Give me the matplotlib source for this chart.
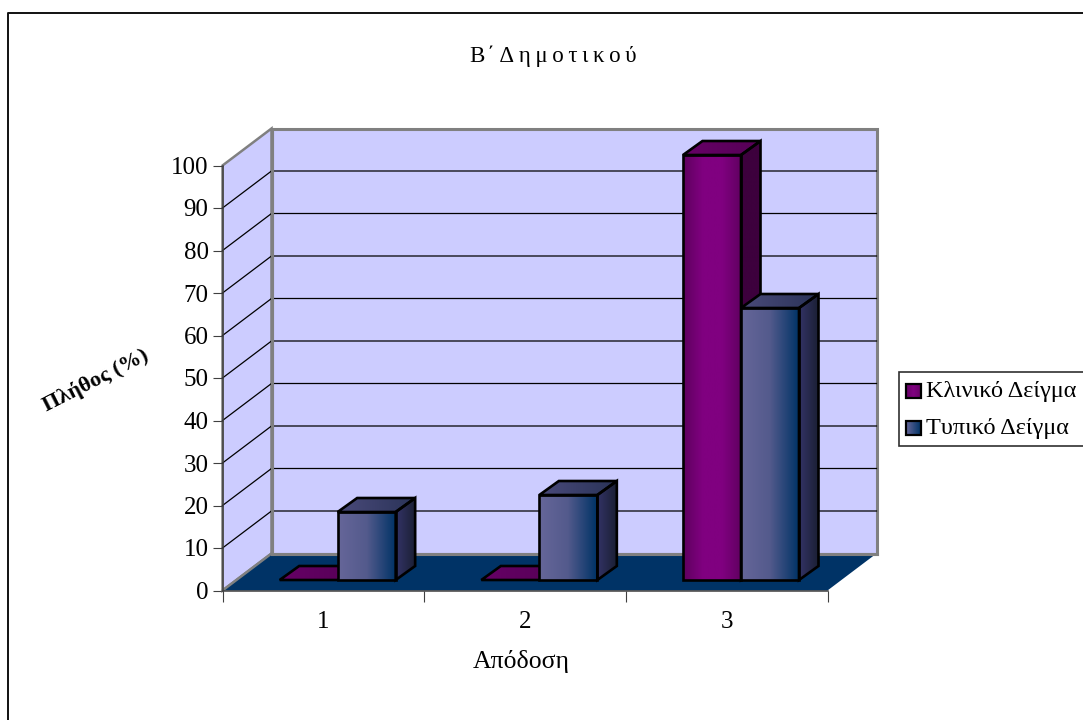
import numpy as np
import matplotlib
matplotlib.use('Agg')
import matplotlib.pyplot as plt
from matplotlib.colors import LinearSegmentedColormap
from matplotlib.patches import Polygon, Rectangle

categories = ['1', '2', '3']
clinical = [0, 0, 100]
typical = [16, 20, 64]
y_ticks = [0, 10, 20, 30, 40, 50, 60, 70, 80, 90, 100]
series_names = ['Κλινικό Δείγμα', 'Τυπικό Δείγμα']

W, H = 1083, 720
plt.rcParams['font.family'] = ['Liberation Serif', 'DejaVu Serif']

fig = plt.figure(figsize=(W / 100, H / 100), dpi=100, facecolor='white')

# front plane of the chart box in figure pixels
left, right, bottom, top = 222.5, 827.5, 590.5, 165.5
ax = fig.add_axes([left / W, 1 - bottom / H, (right - left) / W, (bottom - top) / H])
ax.set_xlim(0, 3)
ax.set_ylim(0, 100)
ax.patch.set_visible(False)

ux = (right - left) / 3    # pixels per category
uy = (bottom - top) / 100  # pixels per percent
depth_x = 49 / ux          # wall depth in data units
depth_y = 37 / uy


def poly(pts, **kw):
    p = Polygon(pts, closed=True, clip_on=False, **kw)
    ax.add_patch(p)
    return p


def shaded(pts, stops, zorder):
    # horizontal gradient clipped to a polygon
    xs = [p[0] for p in pts]
    ys = [p[1] for p in pts]
    cmap = LinearSegmentedColormap.from_list('g', stops)
    im = ax.imshow(np.linspace(0, 1, 128).reshape(1, -1), cmap=cmap, aspect='auto',
                   extent=(min(xs), max(xs), min(ys), max(ys)), zorder=zorder)
    im.set_clip_box(fig.bbox)
    im.set_clip_path(Polygon(pts, transform=ax.transData))
    ax.set_xlim(0, 3)
    ax.set_ylim(0, 100)
    poly(pts, fc='none', ec='black', lw=1.9, zorder=zorder + 0.1)


# walls and floor
wall = '#CCCCFF'
edge = '#808080'
poly([(depth_x, depth_y), (3 + depth_x, depth_y), (3 + depth_x, 100 + depth_y), (depth_x, 100 + depth_y)],
     fc=wall, ec=edge, lw=2.2, zorder=1)
poly([(0, 0), (depth_x, depth_y), (depth_x, 100 + depth_y), (0, 100)], fc=wall, ec=edge, lw=1.8, zorder=1)
for v in y_ticks[1:-1]:
    ax.plot([0, depth_x, 3 + depth_x], [v, v + depth_y, v + depth_y], color='black', lw=0.9,
            zorder=2, clip_on=False)
poly([(0, 0), (3, 0), (3 + depth_x, depth_y), (depth_x, depth_y)], fc='#003366', ec='none', zorder=3)
ax.plot([depth_x, 3 + depth_x], [depth_y, depth_y], color=edge, lw=2.2, zorder=3, clip_on=False)
ax.plot([0, depth_x], [0, depth_y], color=edge, lw=1.8, zorder=3, clip_on=False)
ax.plot([depth_x, depth_x], [depth_y, 100 + depth_y], color=edge, lw=2.2, zorder=3, clip_on=False)


def bar3d(x0, value, front, side, roof, zorder):
    # box standing in the middle of the floor depth
    w = 58 / ux
    oy = 10.5 / uy
    dx, dy = 19.5 / ux, 14 / uy
    x1 = x0 + w
    y0 = oy
    y1 = oy + value
    if value > 0:
        shaded([(x0, y0), (x1, y0), (x1, y1), (x0, y1)], front, zorder)
        shaded([(x1, y0), (x1 + dx, y0 + dy), (x1 + dx, y1 + dy), (x1, y1)], side, zorder)
    shaded([(x0, y1), (x1, y1), (x1 + dx, y1 + dy), (x0 + dx, y1 + dy)], roof, zorder)


purple = ['#5E005E', '#800080', '#800080', '#600060']
purple_side = ['#3D003D', '#3D003D']
purple_roof = ['#660066', '#560056']
blue = ['#666699', '#535A8C', '#003366']
blue_side = ['#333366', '#1A1F33']
blue_roof = ['#4A4A7A', '#2A3358']

bar_w = 58 / ux
starts = [(683 - left) / ux - 2 + i for i in range(3)]
for i in [0, 1, 2]:
    bar3d(starts[i], clinical[i], purple, purple_side, purple_roof, 5)
for i in [0, 1, 2]:
    bar3d(starts[i] + bar_w, typical[i], blue, blue_side, blue_roof, 6)

# axes lines, ticks and labels
for name in ['top', 'right']:
    ax.spines[name].set_visible(False)
for name in ['left', 'bottom']:
    ax.spines[name].set_color('#404040')
    ax.spines[name].set_linewidth(1.1)
    ax.spines[name].set_zorder(4)
ax.set_yticks(y_ticks)
ax.set_xticks([0, 1, 2, 3])
ax.set_xticklabels([])
ax.set_xticks([0.5, 1.5, 2.5], labels=categories, minor=True)
ax.tick_params(axis='y', which='major', length=7.5, width=0.8, color='#404040', labelsize=18, pad=2.5, direction='out')
ax.tick_params(axis='x', which='major', length=8, width=0.8, color='#404040')
ax.tick_params(axis='x', which='minor', length=0, labelsize=18, pad=15)
ax.set_xlabel('Απόδοση', fontsize=18.5, labelpad=12, x=0.493)


def px(x, y, s, **kw):
    fig.text(x / W, 1 - y / H, s, **kw)


px(553, 56, 'Β\u200a΄ ' + '\u2009'.join('Δημοτικού'), fontsize=16.5, ha='center', va='center')
px(96, 381, 'Πλήθος (%)', fontsize=16, fontweight='bold', rotation=27, ha='center', va='center',
   rotation_mode='anchor')

# outer frame runs off the right and bottom edges
fig.add_artist(plt.Line2D([8 / W, 8 / W, 1], [0, 1 - 12.5 / H, 1 - 12.5 / H], color='#111111', lw=1.4))

# legend box with gradient swatches
lax = fig.add_axes([0, 0, 1, 1], xlim=(0, W), ylim=(H, 0), zorder=10)
lax.axis('off')
lax.add_patch(Rectangle((898.5, 371.5), 190, 74, fc='white', ec='#303030', lw=1.2, clip_on=False, zorder=1))
for (y, stops, name) in [(390.5, ['#660066', '#800080', '#660066'], series_names[0]),
                         (427.5, ['#666699', '#003366'], series_names[1])]:
    cmap = LinearSegmentedColormap.from_list('g', stops)
    lax.imshow(np.linspace(0, 1, 32).reshape(1, -1), cmap=cmap, aspect='auto',
               extent=(906, 921, y + 7, y - 7), zorder=2)
    lax.add_patch(Rectangle((906, y - 7), 15, 14, fc='none', ec='black', lw=1.6, zorder=3))
    lax.text(926, y + 1, name, fontsize=17.5, va='center', ha='left', zorder=3)
lax.set_xlim(0, W)
lax.set_ylim(H, 0)

fig.savefig('out.png', dpi=100, facecolor='white')
